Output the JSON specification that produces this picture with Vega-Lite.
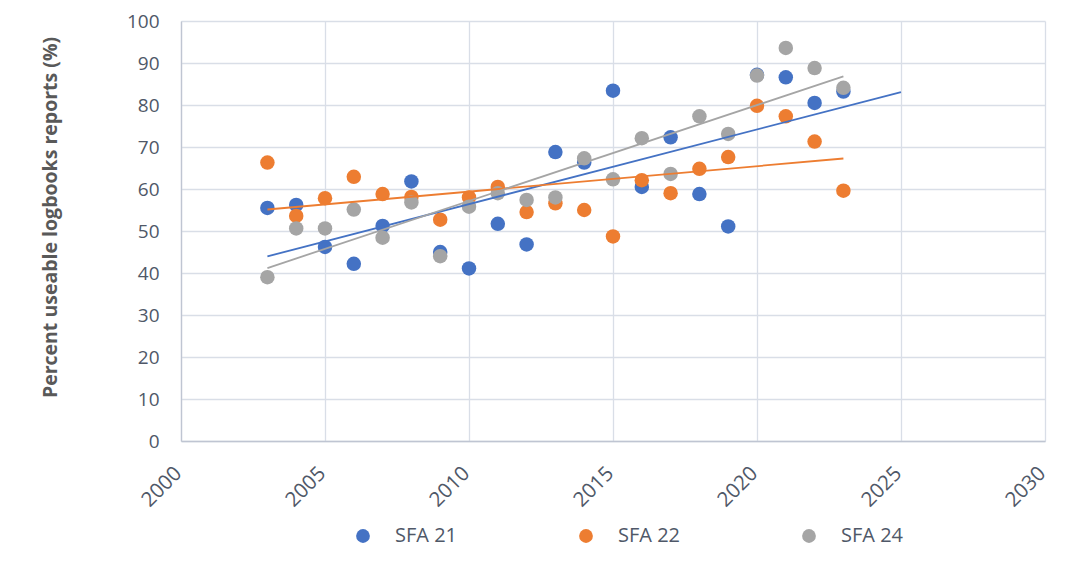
{
  "$schema": "https://vega.github.io/schema/vega-lite/v6.json",
  "width": 864,
  "height": 420,
  "autosize": {"type": "none"},
  "padding": {"left": 181, "top": 21, "right": 28, "bottom": 135},
  "background": "white",
  "config": {
    "font": "Open Sans",
    "view": {"stroke": null},
    "axis": {"gridColor": "#D9DEE7", "gridWidth": 1.3, "domainColor": "#BFC5D2", "domainWidth": 1.3, "ticks": false, "labelColor": "#4F5868", "labelFont": "Open Sans", "labelFontSize": 19}
  },
  "data": {"values": [
    {"year": 2003, "series": "SFA 21", "value": 55.5},
    {"year": 2004, "series": "SFA 21", "value": 56.2},
    {"year": 2005, "series": "SFA 21", "value": 46.2},
    {"year": 2006, "series": "SFA 21", "value": 42.2},
    {"year": 2007, "series": "SFA 21", "value": 51.2},
    {"year": 2008, "series": "SFA 21", "value": 61.8},
    {"year": 2009, "series": "SFA 21", "value": 45.0},
    {"year": 2010, "series": "SFA 21", "value": 41.1},
    {"year": 2011, "series": "SFA 21", "value": 51.7},
    {"year": 2012, "series": "SFA 21", "value": 46.8},
    {"year": 2013, "series": "SFA 21", "value": 68.8},
    {"year": 2014, "series": "SFA 21", "value": 66.3},
    {"year": 2015, "series": "SFA 21", "value": 83.4},
    {"year": 2016, "series": "SFA 21", "value": 60.5},
    {"year": 2017, "series": "SFA 21", "value": 72.3},
    {"year": 2018, "series": "SFA 21", "value": 58.8},
    {"year": 2019, "series": "SFA 21", "value": 51.1},
    {"year": 2020, "series": "SFA 21", "value": 87.2},
    {"year": 2021, "series": "SFA 21", "value": 86.6},
    {"year": 2022, "series": "SFA 21", "value": 80.5},
    {"year": 2023, "series": "SFA 21", "value": 83.2},
    {"year": 2003, "series": "SFA 22", "value": 66.3},
    {"year": 2004, "series": "SFA 22", "value": 53.6},
    {"year": 2005, "series": "SFA 22", "value": 57.8},
    {"year": 2006, "series": "SFA 22", "value": 62.9},
    {"year": 2007, "series": "SFA 22", "value": 58.8},
    {"year": 2008, "series": "SFA 22", "value": 58.1},
    {"year": 2009, "series": "SFA 22", "value": 52.7},
    {"year": 2010, "series": "SFA 22", "value": 58.0},
    {"year": 2011, "series": "SFA 22", "value": 60.5},
    {"year": 2012, "series": "SFA 22", "value": 54.5},
    {"year": 2013, "series": "SFA 22", "value": 56.6},
    {"year": 2014, "series": "SFA 22", "value": 55.0},
    {"year": 2015, "series": "SFA 22", "value": 48.7},
    {"year": 2016, "series": "SFA 22", "value": 62.1},
    {"year": 2017, "series": "SFA 22", "value": 59.0},
    {"year": 2018, "series": "SFA 22", "value": 64.8},
    {"year": 2019, "series": "SFA 22", "value": 67.6},
    {"year": 2020, "series": "SFA 22", "value": 79.8},
    {"year": 2021, "series": "SFA 22", "value": 77.3},
    {"year": 2022, "series": "SFA 22", "value": 71.3},
    {"year": 2023, "series": "SFA 22", "value": 59.6},
    {"year": 2003, "series": "SFA 24", "value": 39.0},
    {"year": 2004, "series": "SFA 24", "value": 50.6},
    {"year": 2005, "series": "SFA 24", "value": 50.6},
    {"year": 2006, "series": "SFA 24", "value": 55.1},
    {"year": 2007, "series": "SFA 24", "value": 48.4},
    {"year": 2008, "series": "SFA 24", "value": 56.8},
    {"year": 2009, "series": "SFA 24", "value": 44.0},
    {"year": 2010, "series": "SFA 24", "value": 55.8},
    {"year": 2011, "series": "SFA 24", "value": 59.0},
    {"year": 2012, "series": "SFA 24", "value": 57.4},
    {"year": 2013, "series": "SFA 24", "value": 58.0},
    {"year": 2014, "series": "SFA 24", "value": 67.3},
    {"year": 2015, "series": "SFA 24", "value": 62.3},
    {"year": 2016, "series": "SFA 24", "value": 72.1},
    {"year": 2017, "series": "SFA 24", "value": 63.6},
    {"year": 2018, "series": "SFA 24", "value": 77.3},
    {"year": 2019, "series": "SFA 24", "value": 73.1},
    {"year": 2020, "series": "SFA 24", "value": 87.0},
    {"year": 2021, "series": "SFA 24", "value": 93.6},
    {"year": 2022, "series": "SFA 24", "value": 88.8},
    {"year": 2023, "series": "SFA 24", "value": 84.1}
  ]},
  "encoding": {
    "x": {"field": "year", "type": "quantitative", "scale": {"domain": [2000, 2030], "nice": false, "zero": false},
      "axis": {"title": null, "values": [2000, 2005, 2010, 2015, 2020, 2025, 2030], "format": "d", "labelAngle": -45, "labelAlign": "right", "labelBaseline": "top", "labelPadding": 22, "labelOffset": -10, "labelFontSize": 20.5}},
    "y": {"field": "value", "type": "quantitative", "scale": {"domain": [0, 100], "nice": false},
      "axis": {"title": "Percent useable logbooks reports (%)", "values": [0, 10, 20, 30, 40, 50, 60, 70, 80, 90, 100], "labelPadding": 22, "titleFontSize": 19.5, "titleFontWeight": "bold", "titleColor": "#595959", "titlePadding": 66, "titleY": 196}}
  },
  "layer": [
    {
      "mark": {"type": "circle", "size": 210, "opacity": 1},
      "encoding": {
        "color": {"field": "series", "type": "nominal",
          "scale": {"domain": ["SFA 21", "SFA 22", "SFA 24"], "range": ["#4472C4", "#ED7D31", "#A5A5A5"]},
          "legend": {"title": null, "orient": "none", "direction": "horizontal", "legendX": 172, "legendY": 505, "symbolType": "circle", "symbolSize": 190, "labelFontSize": 20, "labelColor": "#4F5868", "labelOffset": 22, "columnPadding": 118, "symbolOpacity": 1}}
      }
    },
    {
      "transform": [{"filter": "datum.series === 'SFA 21'"}, {"regression": "value", "on": "year", "extent": [2003, 2025]}],
      "mark": {"type": "line", "color": "#4472C4", "strokeWidth": 1.8},
      "encoding": {}
    },
    {
      "transform": [{"filter": "datum.series === 'SFA 22'"}, {"regression": "value", "on": "year", "extent": [2003, 2023]}],
      "mark": {"type": "line", "color": "#ED7D31", "strokeWidth": 1.8},
      "encoding": {}
    },
    {
      "transform": [{"filter": "datum.series === 'SFA 24'"}, {"regression": "value", "on": "year", "extent": [2003, 2023]}],
      "mark": {"type": "line", "color": "#A5A5A5", "strokeWidth": 1.8},
      "encoding": {}
    }
  ]
}
